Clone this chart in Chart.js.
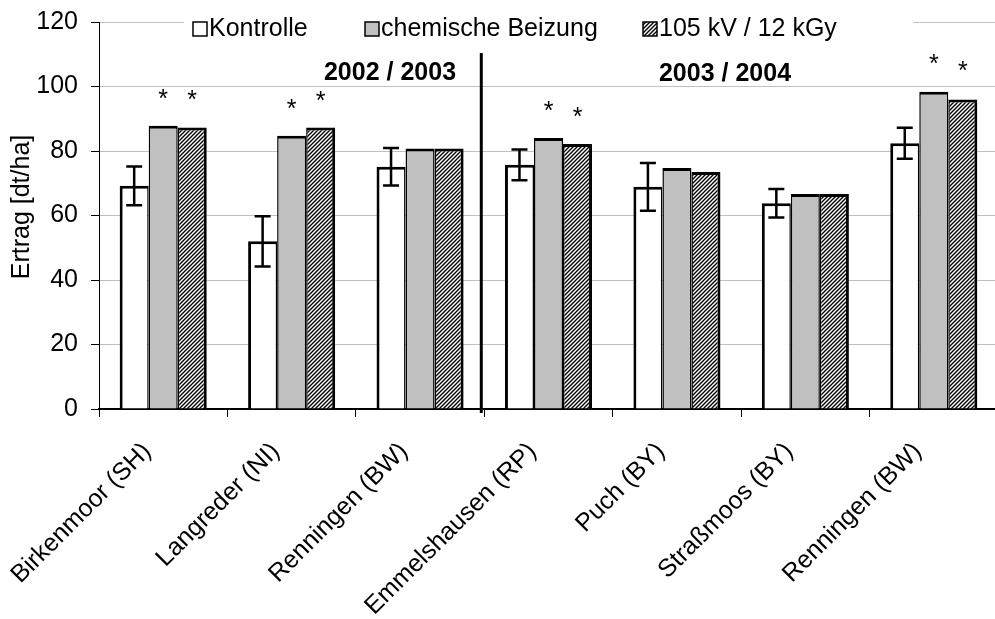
<!DOCTYPE html>
<html><head><meta charset="utf-8">
<script src="https://cdn.jsdelivr.net/npm/chart.js@4.4.1/dist/chart.umd.min.js"></script>
<style>html,body{margin:0;padding:0;overflow:hidden;background:#fff}#wrap{width:998px;height:619px}</style>
</head><body><div id="wrap"><canvas id="c" width="998" height="619"></canvas></div>
<script>
// ---- data ----
const categories = ['Birkenmoor (SH)', 'Langreder (NI)', 'Renningen (BW)', 'Emmelshausen (RP)', 'Puch (BY)', 'Straßmoos (BY)', 'Renningen (BW)'];
const seriesNames = ['Kontrolle', 'chemische Beizung', '105 kV / 12 kGy'];
const kontrolle = [69.2, 52.0, 75.1, 75.7, 68.9, 63.8, 82.4];
const kontrolleErr = [6.0, 7.8, 5.8, 4.8, 7.4, 4.4, 4.8];
const chemisch = [87.8, 84.7, 80.8, 84.0, 74.7, 66.7, 98.4];
const elektronen = [87.3, 87.3, 80.8, 82.2, 73.5, 66.7, 96.0];
const starsChemisch = [97.9, 95.0, null, 94.3, null, null, 108.8];
const starsElektronen = [97.6, 97.5, null, 92.5, null, null, 106.7];
const seasonLabels = ['2002 / 2003', '2003 / 2004'];
const yTicks = [0, 20, 40, 60, 80, 100, 120];
const yTitle = 'Ertrag [dt/ha]';

const FONT = '"Liberation Sans", Arial, sans-serif';
const GRAY = '#c0c0c0';

function makeHatch() {
  const p = document.createElement('canvas');
  p.width = 4; p.height = 4;
  const g = p.getContext('2d');
  g.fillStyle = '#fff'; g.fillRect(0, 0, 4, 4);
  g.strokeStyle = '#000'; g.lineWidth = 1.4;
  g.beginPath();
  g.moveTo(-1, 5); g.lineTo(5, -1);
  g.moveTo(-1, 1); g.lineTo(1, -1);
  g.moveTo(3, 5); g.lineTo(5, 3);
  g.stroke();
  return p;
}
const ctx0 = document.getElementById('c').getContext('2d');
const hatch = ctx0.createPattern(makeHatch(), 'repeat');

const extras = {
  id: 'extras',
  afterDatasetsDraw(chart) {
    const ctx = chart.ctx, y = chart.scales.y, x = chart.scales.x;
    const m0 = chart.getDatasetMeta(0), m1 = chart.getDatasetMeta(1), m2 = chart.getDatasetMeta(2);
    ctx.save();
    // error bars
    ctx.strokeStyle = '#000'; ctx.lineWidth = 2.5;
    kontrolle.forEach((v, i) => {
      const bx = m0.data[i].x;
      const yt = y.getPixelForValue(v + kontrolleErr[i]);
      const yb = y.getPixelForValue(v - kontrolleErr[i]);
      ctx.beginPath();
      ctx.moveTo(bx, yt); ctx.lineTo(bx, yb);
      ctx.moveTo(bx - 8, yt); ctx.lineTo(bx + 8, yt);
      ctx.moveTo(bx - 8, yb); ctx.lineTo(bx + 8, yb);
      ctx.stroke();
    });
    // significance stars
    ctx.fillStyle = '#000';
    ctx.font = '25px ' + FONT;
    ctx.textAlign = 'center'; ctx.textBaseline = 'alphabetic';
    [[starsChemisch, m1], [starsElektronen, m2]].forEach(([arr, meta]) => {
      arr.forEach((v, i) => {
        if (v == null) return;
        ctx.fillText('*', meta.data[i].x, y.getPixelForValue(v) + 14);
      });
    });
    // separator
    const sx = (x.getPixelForValue(2) + x.getPixelForValue(3)) / 2 - 3;
    ctx.lineWidth = 3;
    ctx.beginPath(); ctx.moveTo(sx, 53); ctx.lineTo(sx, 413); ctx.stroke();
    // season labels
    ctx.font = 'bold 25px ' + FONT;
    ctx.textBaseline = 'middle';
    ctx.fillText(seasonLabels[0], 390, 73);
    ctx.fillText(seasonLabels[1], 725, 74);
    ctx.restore();
  },
  afterDraw(chart) {
    const ctx = chart.ctx;
    ctx.save();
    // legend background
    ctx.fillStyle = '#fff';
    ctx.fillRect(184, 14, 729, 26);
    const items = [
      {x: 193, fill: '#fff'},
      {x: 365, fill: GRAY},
      {x: 643, fill: hatch}
    ];
    ctx.font = '25px ' + FONT;
    ctx.textAlign = 'left'; ctx.textBaseline = 'alphabetic';
    items.forEach((it, i) => {
      ctx.fillStyle = it.fill;
      ctx.fillRect(it.x, 22, 14, 14);
      ctx.strokeStyle = '#000'; ctx.lineWidth = 1.5;
      ctx.strokeRect(it.x, 22, 14, 14);
      ctx.fillStyle = '#000';
      ctx.fillText(seriesNames[i], it.x + 16, 36);
    });
    // y title
    ctx.translate(22, 207);
    ctx.rotate(-Math.PI / 2);
    ctx.textAlign = 'center'; ctx.textBaseline = 'middle';
    ctx.fillText(yTitle, 0, 0);
    ctx.restore();
  }
};

new Chart(document.getElementById('c'), {
  type: 'bar',
  data: {
    labels: categories,
    datasets: [
      {label: seriesNames[0], data: kontrolle, backgroundColor: '#fff', borderColor: '#000',
       borderWidth: {top: 3, left: 3, right: 1.5, bottom: 0}},
      {label: seriesNames[1], data: chemisch, backgroundColor: GRAY, borderColor: '#000',
       borderWidth: {top: 3, left: 1.5, right: 1.5, bottom: 0}},
      {label: seriesNames[2], data: elektronen, backgroundColor: hatch, borderColor: '#000',
       borderWidth: {top: 3, left: 1.5, right: 3, bottom: 0}}
    ]
  },
  options: {
    responsive: false,
    animation: false,
    devicePixelRatio: 1,
    layout: {padding: {top: 22, left: 0, right: 0, bottom: 0}},
    datasets: {bar: {categoryPercentage: 0.678, barPercentage: 1.0, borderSkipped: 'start'}},
    plugins: {legend: {display: false}, tooltip: {enabled: false}, title: {display: false}},
    scales: {
      x: {
        ticks: {font: {family: FONT, size: 25}, color: '#000', minRotation: 45, maxRotation: 45,
                autoSkip: false, padding: 20, labelOffset: -16},
        grid: {drawOnChartArea: false, tickLength: 8, color: '#000', offset: true},
        border: {color: '#000', width: 2},
        afterFit: s => { s.height = 210; s.paddingLeft = 0; s.paddingRight = 0; }
      },
      y: {
        min: 0, max: 120,
        afterBuildTicks: s => { s.ticks = yTicks.map(v => ({value: v})); },
        ticks: {font: {family: FONT, size: 25}, color: '#000', padding: 13},
        grid: {color: GRAY, tickColor: '#000', tickLength: 8, lineWidth: 1},
        border: {color: '#000', width: 1},
        afterFit: s => { s.width = 99; s.paddingTop = 0; s.paddingBottom = 0; }
      }
    }
  },
  plugins: [extras]
});
</script>
</body></html>
